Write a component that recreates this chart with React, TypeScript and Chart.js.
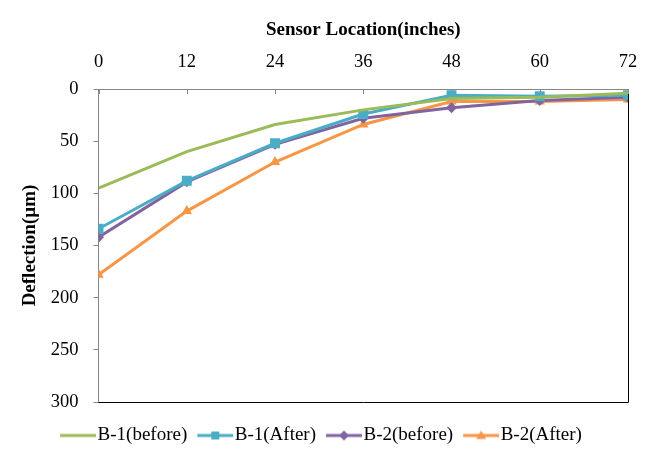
import React, { useEffect, useRef } from "react";
import { Chart, registerables } from "chart.js";

Chart.register(...registerables);

const locations = [0, 12, 24, 36, 48, 60, 72];
const seriesNames = ["B-1(before)", "B-1(After)", "B-2(before)", "B-2(After)"];
const b1Before = [95, 60, 34, 20, 9, 8, 4];
const b1After = [134, 88, 52, 24, 6, 7, 6];
const b2Before = [142, 89, 53, 28, 18, 11, 8];
const b2After = [178, 117, 70, 34, 12, 12, 10];
const xTicks = [0, 12, 24, 36, 48, 60, 72];
const yTicks = [0, 50, 100, 150, 200, 250, 300];

const colors = ["#9BBB59", "#4BACC6", "#8064A2", "#F79646"];
const markers: (string | false)[] = [false, "rect", "rectRot", "triangle"];
const markerRadius = [0, 7, 5.5, 6];

const FONT = "'Liberation Serif', 'Times New Roman', serif";

function legendImage(color: string, marker: string | false) {
  const c = document.createElement("canvas");
  c.width = 44;
  c.height = 14;
  const ctx = c.getContext("2d")!;
  ctx.strokeStyle = color;
  ctx.lineWidth = 3;
  ctx.beginPath();
  ctx.moveTo(8, 7);
  ctx.lineTo(44, 7);
  ctx.stroke();
  ctx.fillStyle = color;
  const cx = 26, cy = 7;
  ctx.beginPath();
  if (marker === "rect") {
    ctx.rect(cx - 4, cy - 4, 8, 8);
  } else if (marker === "rectRot") {
    ctx.moveTo(cx, cy - 5);
    ctx.lineTo(cx + 5, cy);
    ctx.lineTo(cx, cy + 5);
    ctx.lineTo(cx - 5, cy);
    ctx.closePath();
  } else if (marker === "triangle") {
    ctx.moveTo(cx, cy - 5);
    ctx.lineTo(cx + 5, cy + 3.5);
    ctx.lineTo(cx - 5, cy + 3.5);
    ctx.closePath();
  }
  if (marker) ctx.fill();
  return c;
}

const framePlugin = {
  id: "frame",
  beforeDatasetsDraw(chart: any) {
    const { ctx, chartArea, scales } = chart;
    ctx.save();
    ctx.strokeStyle = "#000000";
    ctx.lineWidth = 1;
    ctx.beginPath();
    ctx.moveTo(chartArea.right + 0.5, chartArea.top);
    ctx.lineTo(chartArea.right + 0.5, chartArea.bottom + 0.5);
    ctx.lineTo(chartArea.left, chartArea.bottom + 0.5);
    ctx.stroke();
    // inside tick marks of the top axis
    ctx.strokeStyle = "#868686";
    ctx.beginPath();
    const xs = scales.x;
    for (const v of xTicks) {
      const px = Math.round(xs.getPixelForValue(v)) + 0.5;
      ctx.moveTo(px, chartArea.top);
      ctx.lineTo(px, chartArea.top + 5);
    }
    ctx.stroke();
    ctx.restore();
  },
};

export default function App() {
  const ref = useRef<HTMLCanvasElement>(null);
  useEffect(() => {
    document.body.style.margin = "0";
    const allSeries = [b1Before, b1After, b2Before, b2After];
    const datasets = allSeries.map((vals, i) => ({
      label: seriesNames[i],
      data: locations.map((x, j) => ({ x, y: vals[j] })),
      borderColor: colors[i],
      backgroundColor: colors[i],
      borderWidth: 3,
      pointStyle: markers[i] as any,
      pointRadius: markers[i] ? markerRadius[i] : 0,
      pointBorderWidth: 0,
      tension: 0,
      xAxisID: "x",
    }));
    const images = colors.map((c, i) => legendImage(c, markers[i]));
    const chart = new Chart(ref.current!, {
      type: "line",
      data: { datasets },
      plugins: [framePlugin],
      options: {
        animation: false,
        responsive: false,
        layout: { padding: { top: 14, left: 14, right: 26, bottom: 3 } },
        scales: {
          x: {
            type: "linear",
            position: "top",
            min: 0,
            max: 72,
            afterBuildTicks: (s: any) => {
              s.ticks = xTicks.map((v) => ({ value: v }));
            },
            ticks: { color: "#000", font: { family: FONT, size: 18.5 }, padding: 16, maxRotation: 0 },
            grid: { display: false, drawTicks: false },
            border: { display: true, color: "#868686", width: 1 },
            title: {
              display: true,
              text: "Sensor Location(inches)",
              color: "#000",
              font: { family: FONT, size: 19, weight: "bold" },
              padding: { top: 5, bottom: -7 },
            },
          },
          gap: {
            type: "linear",
            position: "bottom",
            display: true,
            min: 0,
            max: 72,
            ticks: { display: false },
            grid: { display: false, drawTicks: false },
            border: { display: false },
            afterFit: (s: any) => {
              s.height = 14;
            },
          },
          y: {
            type: "linear",
            reverse: true,
            min: 0,
            max: 300,
            afterBuildTicks: (s: any) => {
              s.ticks = yTicks.map((v) => ({ value: v }));
            },
            ticks: { color: "#000", font: { family: FONT, size: 18.5 }, padding: 15 },
            grid: { display: true, drawOnChartArea: false, drawTicks: true, tickLength: 5, color: "#868686" },
            border: { display: true, color: "#868686", width: 1 },
            title: {
              display: true,
              text: "Deflection(µm)",
              color: "#000",
              font: { family: FONT, size: 19, weight: "bold" },
              padding: { top: 5, bottom: -6 },
            },
          },
        },
        plugins: {
          legend: {
            position: "bottom",
            labels: {
              color: "#000",
              font: { family: FONT, size: 19 },
              usePointStyle: true,
              pointStyleWidth: 28,
              padding: 10,
              generateLabels: () =>
                seriesNames.map((name, i) => ({
                  text: name,
                  pointStyle: images[i] as any,
                  fillStyle: colors[i],
                  strokeStyle: colors[i],
                  lineWidth: 0,
                  hidden: false,
                  datasetIndex: i,
                  fontColor: "#000",
                })),
            },
          },
          tooltip: { enabled: false },
        },
      },
    });
    return () => chart.destroy();
  }, []);
  return <canvas ref={ref} width={654} height={458} style={{ display: "block" }} />;
}
